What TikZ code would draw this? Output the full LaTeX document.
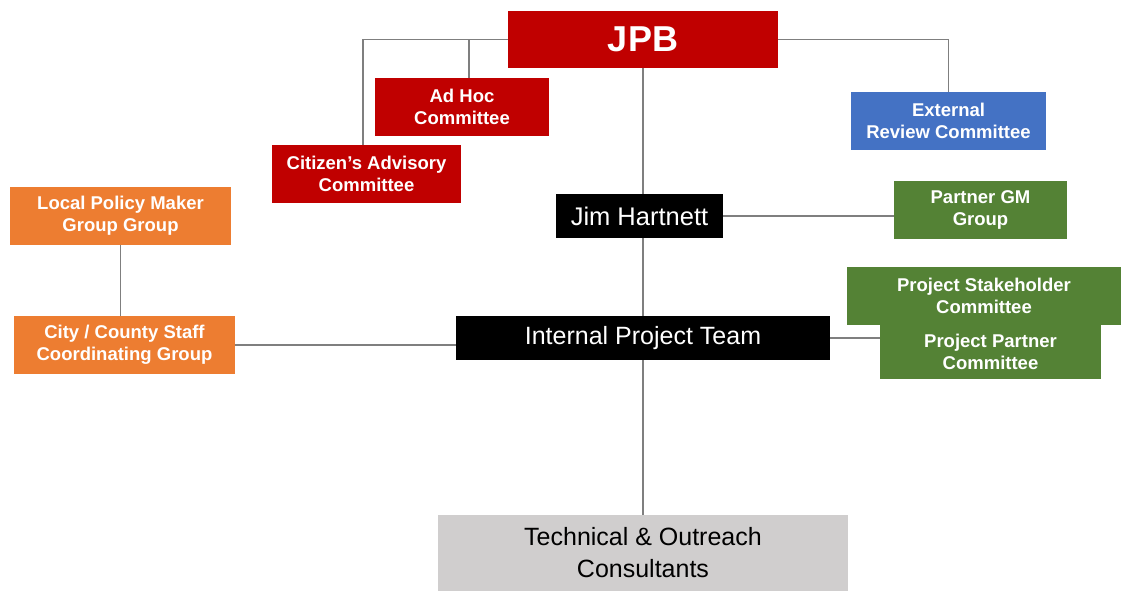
\documentclass[tikz,border=0pt]{standalone}
\usepackage{fontspec}
\setmainfont{Liberation Sans}
\definecolor{jred}{HTML}{C00000}
\definecolor{jblue}{HTML}{4472C4}
\definecolor{jgreen}{HTML}{548235}
\definecolor{jorange}{HTML}{ED7D31}
\definecolor{jgray}{HTML}{D0CECE}
\definecolor{jline}{HTML}{7F7F7F}
\begin{document}
\begin{tikzpicture}[x=1pt,y=-1pt,
  box/.style={inner sep=0pt,align=center,text=white},
  cbox/.style={box,font=\fontsize{18.5}{22}\selectfont\bfseries},
  link/.style={draw=jline,line width=1.3pt},
  line join=miter]
\useasboundingbox[fill=white] (0,0) rectangle (1122,592);
\node[box,fill=jred,minimum width=270,minimum height=57,font=\fontsize{36}{40}\selectfont\bfseries] (jpb) at (643,39.5) {JPB};
\node[cbox,fill=jred,minimum width=174,minimum height=58] (adhoc) at (462,107) {Ad Hoc\\Committee};
\node[cbox,fill=jred,minimum width=189,minimum height=58] (cac) at (366.5,174) {Citizen’s Advisory\\Committee};
\node[cbox,fill=jblue,minimum width=195,minimum height=58] (ext) at (948.5,121) {External\\Review Committee};
\node[box,fill=black,minimum width=167,minimum height=44,font=\fontsize{25.5}{30}\selectfont] (jim) at (639.5,216) {Jim Hartnett};
\node[cbox,fill=jgreen,minimum width=173,minimum height=58] (pgm) at (980.5,210) {Partner GM\\Group};
\node[cbox,fill=jgreen,minimum width=274,minimum height=58] (psc) at (984,296) {Project Stakeholder\\Committee};
\node[cbox,fill=jgreen,minimum width=221,minimum height=54] (ppc) at (990.5,352) {Project Partner\\Committee};
\node[cbox,fill=jorange,minimum width=221,minimum height=58] (lpm) at (120.5,216) {Local Policy Maker\\Group Group};
\node[cbox,fill=jorange,minimum width=221,minimum height=58] (city) at (124.5,345) {City / County Staff\\Coordinating Group};
\node[box,fill=black,minimum width=374,minimum height=44,font=\fontsize{25}{30}\selectfont] (ipt) at (643,338) {Internal Project Team};
\node[box,fill=jgray,text=black,minimum width=410,minimum height=76,font=\fontsize{25}{32}\selectfont] (tech) at (643,553) {Technical \& Outreach\\Consultants};
\coordinate (cl) at (363,39.5);
\coordinate (ab) at (469,39.5);
\draw[link] (jpb.west) -- (cl) -- (cl |- cac.north);
\draw[link] (ab) -- (ab |- adhoc.north);
\draw[link] (jpb.east) -| (ext.north);
\draw[link] (jpb.south) -- (jpb.south |- jim.north);
\draw[link] (jpb.south |- jim.south) -- (jpb.south |- ipt.north);
\draw[link] (ipt.south) -- (tech.north);
\draw[link] (jim.east) -- (jim.east -| pgm.west);
\draw[link] (lpm.south) -- (lpm.south |- city.north);
\draw[link] (city.east) -- (city.east -| ipt.west);
\draw[link] (ipt.east) -- (ipt.east -| ppc.west);
\end{tikzpicture}
\end{document}
